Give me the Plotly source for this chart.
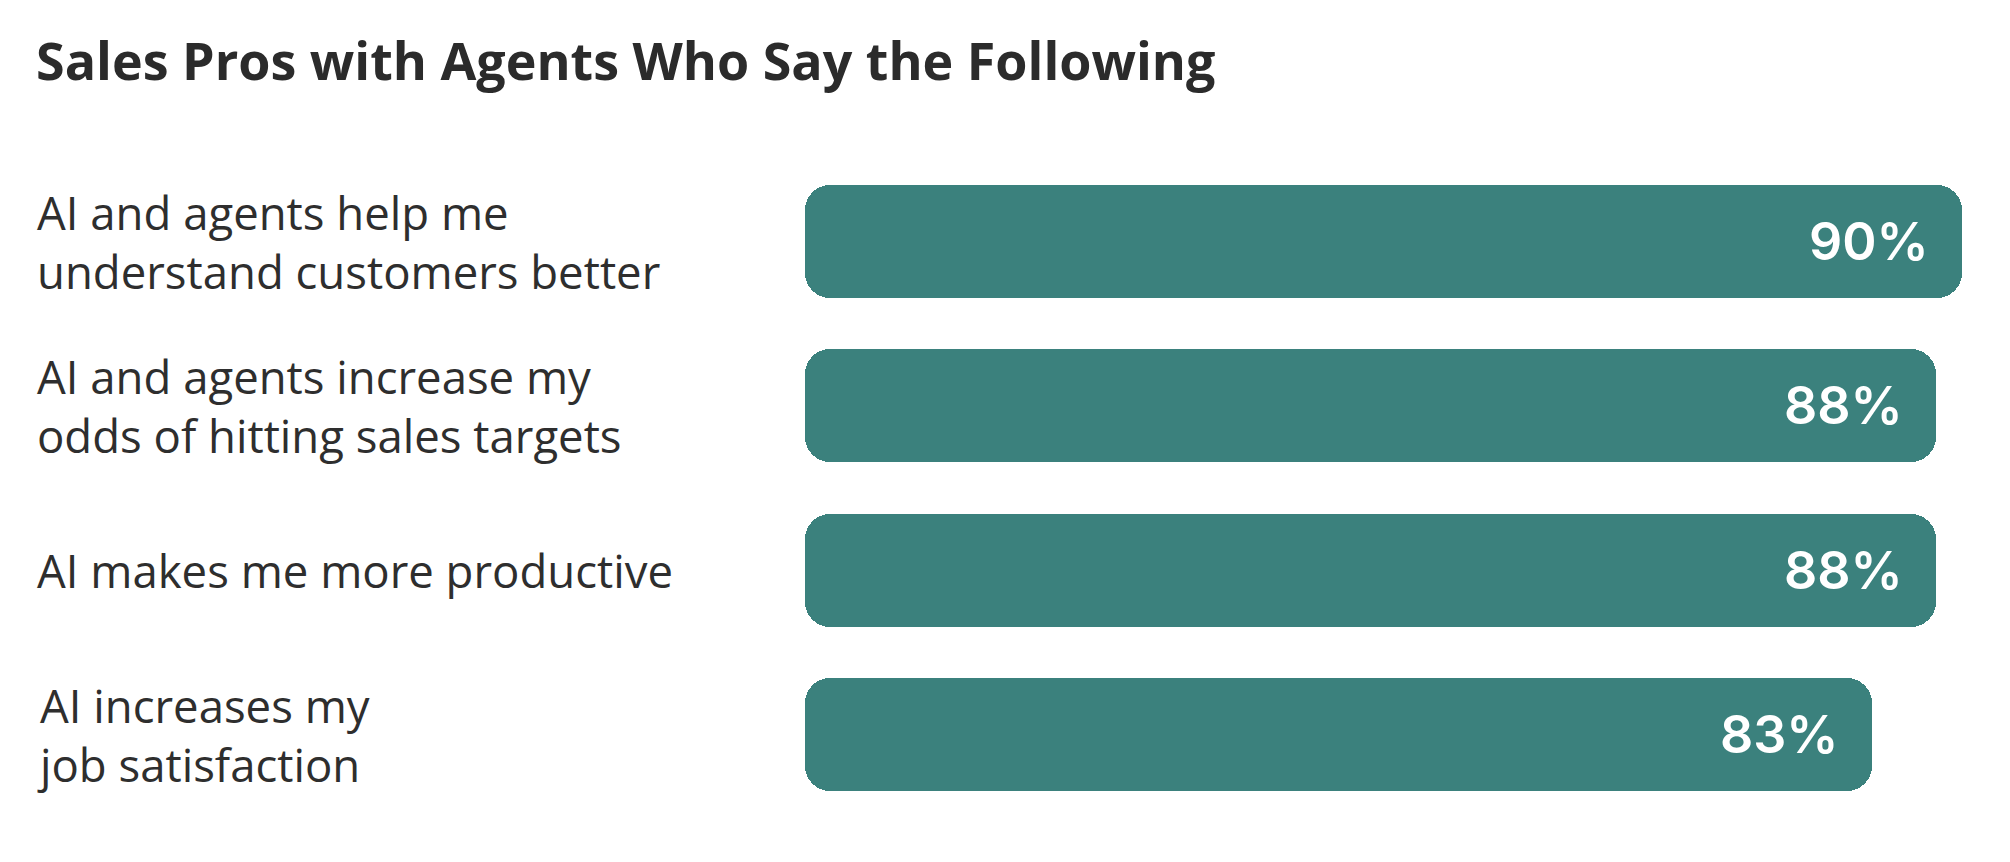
import plotly.graph_objects as go

title_text = "Sales Pros with Agents Who Say the Following"
categories = [
    "AI and agents help me<br>understand customers better",
    "AI and agents increase my<br>odds of hitting sales targets",
    "AI makes me more productive",
    "AI increases my<br>job satisfaction",
]
values = [90, 88, 88, 83]
value_labels = ["90%", "88%", "88%", "83%"]

BAR_COLOR = "#3b817d"
TEXT_COLOR = "#2e2e2e"

W, H = 2010, 862
ML, MR, MT, MB = 805, 48, 159, 45

ypos = list(range(len(categories)))

fig = go.Figure()
fig.add_trace(go.Bar(
    x=values,
    base=[0] * len(values),
    y=ypos,
    orientation="h",
    width=0.685,
    marker=dict(color=BAR_COLOR, cornerradius=25, line=dict(width=0)),
    hoverinfo="skip",
))

annotations = []
plot_w = W - ML - MR
for i, (cat, v, lab) in enumerate(zip(categories, values, value_labels)):
    annotations.append(dict(
        x=(35 - ML) / plot_w, xref="paper", xanchor="left",
        y=i, yref="y", yanchor="middle",
        text=cat, align="left", showarrow=False,
        font=dict(family="Open Sans", size=45.5, color=TEXT_COLOR),
    ))
    annotations.append(dict(
        x=v, xref="x", xanchor="right", xshift=-31,
        y=i, yref="y", yanchor="middle",
        text=lab, showarrow=False,
        font=dict(family="Inter", size=52, color="white", weight=600),
    ))

fig.update_layout(
    width=W, height=H,
    margin=dict(l=ML, r=MR, t=MT, b=MB),
    paper_bgcolor="white", plot_bgcolor="white",
    showlegend=False,
    barmode="overlay",
    title=dict(
        text=title_text,
        x=36 / W, xanchor="left", xref="container",
        y=1 - 62 / H, yanchor="middle", yref="container",
        font=dict(family="Open Sans", size=52, color="#2b2b2b", weight=700),
    ),
    xaxis=dict(range=[0, 90], visible=False, fixedrange=True),
    yaxis=dict(range=[3.5, -0.5], visible=False, fixedrange=True),
    annotations=annotations,
    bargap=0,
)

fig.write_html("out.html")
